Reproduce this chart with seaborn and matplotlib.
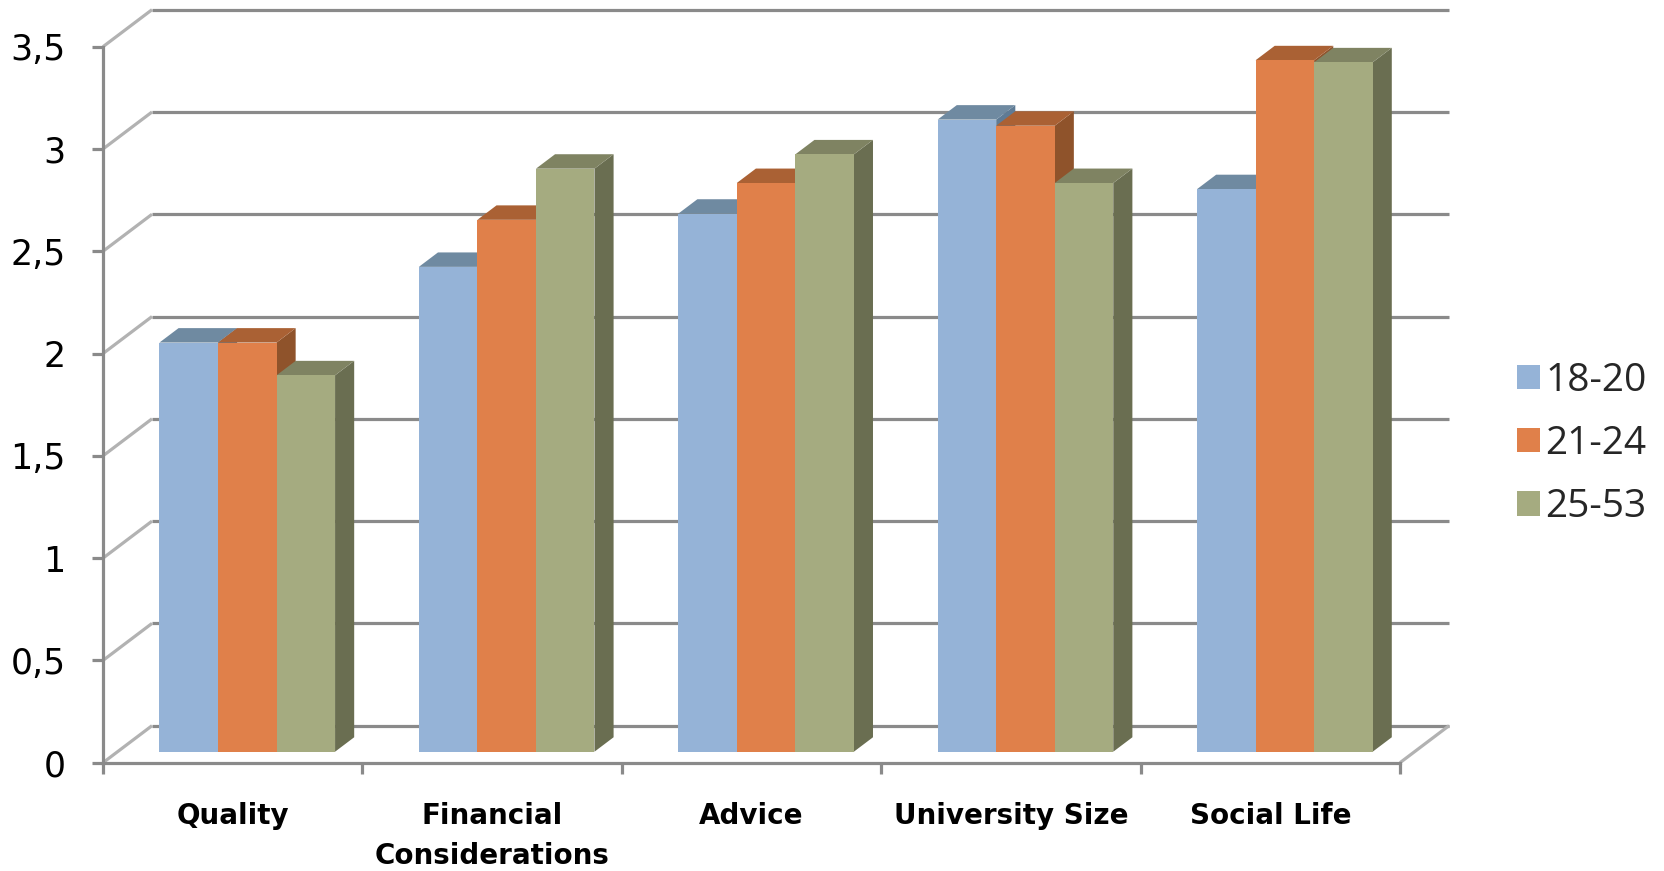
import numpy as np
import pandas as pd
import matplotlib
matplotlib.use("Agg")
import matplotlib.pyplot as plt
from matplotlib.patches import Polygon, Patch
from matplotlib.colors import to_rgba
import seaborn as sns

# Survey scores per decision factor and age group
factors = ["Quality", "Financial\nConsiderations", "Advice", "University Size", "Social Life"]
age_groups = ["18-20", "21-24", "25-53"]
scores_18_20 = [2.00, 2.37, 2.63, 3.09, 2.75]
scores_21_24 = [2.00, 2.60, 2.78, 3.06, 3.38]
scores_25_53 = [1.84, 2.85, 2.92, 2.78, 3.37]
y_ticks = [0, 0.5, 1, 1.5, 2, 2.5, 3, 3.5]

front_colors = ["#95B3D7", "#E0804A", "#A5AB80"]
top_colors = ["#6F8AA1", "#AA6134", "#7F8362"]
side_colors = ["#5F7B95", "#8F532B", "#6A6E51"]

df = pd.DataFrame({
    "factor": factors * len(age_groups),
    "age": np.repeat(age_groups, len(factors)),
    "score": scores_18_20 + scores_21_24 + scores_25_53,
})

sns.set_style("white")
plt.rcParams["font.family"] = ["DejaVu Sans"]

W, H = 1664, 871
fig = plt.figure(figsize=(W / 100, H / 100), dpi=100)
ax = fig.add_axes([103 / W, 1 - 762.7 / H, 1297 / W, 716 / H])

sns.barplot(data=df, x="factor", y="score", hue="age", order=factors,
            hue_order=age_groups, palette=front_colors, saturation=1,
            width=0.677, linewidth=0, errorbar=None, ax=ax, legend=False)

ax.set_xlim(-0.5, len(factors) - 0.5)
ax.set_ylim(0, 3.5)
ax.set_xlabel("")
ax.set_ylabel("")

# oblique depth vector (full depth of the chart box, in data units)
DX, DY = 0.189, 0.181
F0 = 0.297   # depth of the bar fronts
FD = 0.39    # bar thickness
GRID = "#8a8a8a"
WALL = "#b2b2b2"

# back wall gridlines
x_left, x_right = -0.5, len(factors) - 0.5
for v in y_ticks:
    ax.plot([x_left + DX, x_right + DX], [v + DY, v + DY], color=GRID, lw=2.3,
            solid_capstyle="butt", clip_on=False, zorder=1)
    # side wall connectors
    ax.plot([x_left, x_left + DX], [v, v + DY], color=WALL, lw=2.3,
            solid_capstyle="butt", clip_on=False, zorder=1)
# floor right edge
ax.plot([x_right, x_right + DX], [0, DY], color=WALL, lw=2.3,
        solid_capstyle="butt", clip_on=False, zorder=1)

# extrude bars into boxes
front_rgba = [np.array(to_rgba(c)) for c in front_colors]
for p in list(ax.patches):
    fc = np.array(p.get_facecolor())
    j = int(np.argmin([np.abs(fc - c).sum() for c in front_rgba]))
    x0 = p.get_x() + F0 * DX
    y0 = F0 * DY
    w = p.get_width()
    h = p.get_height()
    p.set_x(x0)
    p.set_y(y0)
    p.set_zorder(3 + 2 * j)
    p.set_clip_on(False)
    ddx, ddy = FD * DX, FD * DY
    side = Polygon([(x0 + w, y0), (x0 + w + ddx, y0 + ddy),
                    (x0 + w + ddx, y0 + h + ddy), (x0 + w, y0 + h)],
                   closed=True, facecolor=side_colors[j], edgecolor="none",
                   zorder=2 + 2 * j, clip_on=False)
    top = Polygon([(x0, y0 + h), (x0 + w, y0 + h),
                   (x0 + w + ddx, y0 + h + ddy), (x0 + ddx, y0 + h + ddy)],
                  closed=True, facecolor=top_colors[j], edgecolor="none",
                  zorder=2 + 2 * j, clip_on=False)
    ax.add_patch(side)
    ax.add_patch(top)

# front axes
sns.despine(ax=ax, top=True, right=True)
for s in ("left", "bottom"):
    ax.spines[s].set_color(GRID)
    ax.spines[s].set_linewidth(2.3)
    ax.spines[s].set_zorder(1)

ax.set_yticks(y_ticks)
ax.set_yticklabels([f"{v:g}".replace(".", ",") for v in y_ticks])
ax.tick_params(axis="y", left=True, length=8, width=2.3, color=GRID,
               pad=19, labelsize=25, labelcolor="black")

ax.set_xticks(np.arange(len(factors) + 1) - 0.5)
ax.set_xticklabels([])
ax.set_xticks(np.arange(len(factors)), minor=True)
ax.set_xticklabels(factors, minor=True, fontweight="bold", fontsize=20,
                   color="black")
ax.tick_params(axis="x", which="major", bottom=True, length=8, width=2.3,
               color=GRID)
ax.tick_params(axis="x", which="minor", bottom=True, length=0, pad=28,
               labelcolor="black")
for lbl in ax.get_xticklabels(minor=True):
    lbl.set_linespacing(1.55)

handles = [Patch(facecolor=c, edgecolor="none") for c in front_colors]
fig.legend(handles, age_groups, loc="center left",
           bbox_to_anchor=(1517 / W, 1 - 444 / H), frameon=False,
           prop={"family": "Open Sans", "size": 28},
           handlelength=0.58, handleheight=0.58, handletextpad=0.15,
           labelspacing=0.65, borderpad=0, borderaxespad=0)

fig.savefig("out.png", dpi=100)
